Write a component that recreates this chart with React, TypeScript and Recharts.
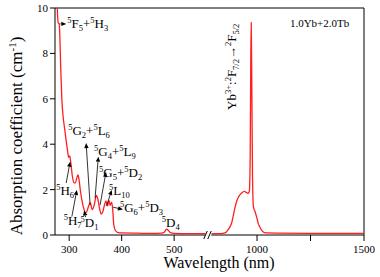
import React from 'react';
import { LineChart, Line, XAxis, YAxis, ReferenceLine, ReferenceDot } from 'recharts';

// ---------- data ----------
const uvWavelength = [273, 276, 279, 281, 282, 284, 286, 289, 291, 294, 297, 299, 301, 303, 306, 309, 312, 315, 317, 319, 322, 325, 328, 331, 333, 336, 340, 344, 348, 352, 355, 358, 361, 364, 367, 370, 373, 376, 378, 381, 383, 385, 388, 392, 400, 430, 460, 476, 481, 484, 486, 489, 493, 500, 530, 560];
const uvAbsorption = [12.5, 10.8, 9.35, 9.3, 8.9, 7.3, 6.0, 5.1, 4.75, 4.2, 3.7, 3.42, 3.48, 3.2, 2.6, 2.3, 2.3, 2.55, 2.65, 2.4, 1.85, 1.45, 1.15, 1.0, 1.0, 1.2, 1.42, 1.12, 1.35, 1.75, 1.55, 1.15, 0.92, 1.02, 1.3, 1.5, 1.28, 1.52, 1.3, 1.45, 1.1, 0.45, 0.2, 0.12, 0.09, 0.08, 0.07, 0.08, 0.12, 0.22, 0.26, 0.2, 0.1, 0.07, 0.06, 0.06];

const nirWavelength = [788, 830, 850, 858, 870, 882, 890, 898, 906, 915, 928, 942, 952, 958, 964, 968, 971, 973, 976, 979, 983, 990, 998, 1006, 1014, 1022, 1032, 1050, 1100, 1250, 1500];
const nirAbsorption = [0.06, 0.06, 0.09, 0.15, 0.3, 0.55, 0.9, 1.25, 1.52, 1.7, 1.85, 1.92, 1.86, 1.84, 1.92, 3.5, 8.0, 9.36, 6.0, 2.5, 1.25, 1.05, 0.8, 0.5, 0.33, 0.2, 0.12, 0.09, 0.08, 0.07, 0.07];

const xTickWavelengths = [300, 400, 500, 1000, 1250, 1500];
const xTickLabels = ['300', '400', '500', '1000', '', '1500'];
const yTicks = [0, 2, 4, 6, 8, 10];

// ---------- broken axis mapping ----------
const AXIS_START = 273;
const U_BREAK = 565;      // end of the UV segment
const NIR_START = 772;    // start of the NIR segment
const NIR_RATIO = 0.4076; // NIR segment compression
const toU = (w: number) => (w <= U_BREAK ? w : U_BREAK + (w - NIR_START) * NIR_RATIO);
const U_MAX = toU(1500);

const uvData = uvWavelength.map((w, i) => ({ u: toU(w), a: uvAbsorption[i] }));
const nirData = nirWavelength.map((w, i) => ({ u: toU(w), a: nirAbsorption[i] }));
const xTicksU = xTickWavelengths.map(toU);

const FONT = '"Liberation Serif", "Times New Roman", Times, serif';
const RED = '#ff1f1f';

type Part = [string, string?];

// annotation texts
const labelTexts: { parts: Part[]; w: number; a: number; rot?: boolean; size?: number }[] = [
  { parts: [['5', 'sup'], ['F'], ['5', 'sub'], ['+'], ['5', 'sup'], ['H'], ['3', 'sub']], w: 296.2, a: 9.12 },
  { parts: [['5', 'sup'], ['G'], ['2', 'sub'], ['+'], ['5', 'sup'], ['L'], ['6', 'sub']], w: 298.1, a: 4.41 },
  { parts: [['5', 'sup'], ['G'], ['4', 'sub'], ['+'], ['5', 'sup'], ['L'], ['9', 'sub']], w: 347.5, a: 3.48 },
  { parts: [['5', 'sup'], ['G'], ['5', 'sub'], ['+'], ['5', 'sup'], ['D'], ['2', 'sub']], w: 357.0, a: 2.56 },
  { parts: [['5', 'sup'], ['L'], ['10', 'sub']], w: 375.9, a: 1.76 },
  { parts: [['5', 'sup'], ['G'], ['6', 'sub'], ['+'], ['5', 'sup'], ['D'], ['3', 'sub']], w: 396.8, a: 1.01 },
  { parts: [['5', 'sup'], ['D'], ['4', 'sub']], w: 476.6, a: 0.35 },
  { parts: [['5', 'sup'], ['H'], ['6', 'sub']], w: 275.3, a: 1.76 },
  { parts: [['5', 'sup'], ['H'], ['7', 'sub']], w: 289.6, a: 0.44 },
  { parts: [['5', 'sup'], ['D'], ['1', 'sub']], w: 321.8, a: 0.35 },
  { parts: [['1.0Yb+2.0Tb']], w: 1153.7, a: 9.15, size: 11 },
  { parts: [['Yb'], ['3+', 'sup'], [':'], ['2', 'sup'], ['F'], ['7/2', 'sub'], ['\u2192'], ['2', 'sup'], ['F'], ['5/2', 'sub']], w: 902.2, a: 5.51, rot: true },
];

// arrows: [fromW, fromA, toW, toA], head at "to"
const arrows: number[][] = [
  [283, 9.3, 294.5, 9.3],
  [294.3, 2.29, 301.9, 3.23],
  [305.1, 0.81, 314.6, 1.98],
  [331.3, 0.79, 328.5, 1.08],
  [339.9, 1.32, 332.3, 4.05],
  [349.4, 1.63, 355.6, 3.45],
  [358.9, 1.32, 370.2, 2.78],
  [371.2, 1.28, 381.1, 1.98],
  [383.5, 1.23, 402.5, 1.12],
];

function RichText({ x, y, parts, size = 13, small = 8.5, rot = false }: any) {
  let level = 0;
  const spans = parts.map(([t, kind]: Part, i: number) => {
    const target = kind === 'sup' ? -size * 0.36 : kind === 'sub' ? size * 0.24 : 0;
    const dy = target - level;
    level = target;
    return (
      <tspan key={i} dy={dy} fontSize={kind ? small : size}>
        {t}
      </tspan>
    );
  });
  return (
    <text
      x={x}
      y={y}
      fill="#000"
      fontSize={size}
      style={{ fontFamily: FONT }}
      transform={rot ? `rotate(-90 ${x} ${y})` : undefined}
    >
      {spans}
    </text>
  );
}

function ArrowShape(props: any) {
  const { x1, y1, x2, y2 } = props;
  const dx = x2 - x1;
  const dy = y2 - y1;
  const len = Math.sqrt(dx * dx + dy * dy) || 1;
  const ux = dx / len;
  const uy = dy / len;
  const hl = 5;
  const hw = 2.2;
  const bx = x2 - ux * hl;
  const by = y2 - uy * hl;
  const p1 = `${x2},${y2}`;
  const p2 = `${bx - uy * hw},${by + ux * hw}`;
  const p3 = `${bx + uy * hw},${by - ux * hw}`;
  return (
    <g>
      <line x1={x1} y1={y1} x2={bx} y2={by} stroke="#000" strokeWidth={0.8} />
      <polygon points={`${p1} ${p2} ${p3}`} fill="#000" />
    </g>
  );
}

function BreakShape(props: any) {
  const { x1, y1, y2 } = props;
  const b = Math.max(y1, y2);
  return (
    <g stroke="#000" strokeWidth={1}>
      <line x1={x1 - 4.5} y1={b + 4} x2={x1 - 1} y2={b - 4} />
      <line x1={x1 - 0.5} y1={b + 4} x2={x1 + 3} y2={b - 4} />
    </g>
  );
}

export default function App() {
  return (
    <div style={{ position: 'absolute', left: 0, top: 0, width: 380, height: 277, background: '#fff', fontFamily: FONT }}>
      <LineChart width={380} height={277} margin={{ top: 8, right: 16, bottom: 12, left: 10 }} style={{ fontFamily: FONT }}>
        <XAxis
          type="number"
          dataKey="u"
          domain={[AXIS_START, U_MAX]}
          allowDataOverflow
          ticks={xTicksU}
          interval={0}
          tickFormatter={(v: number) => xTickLabels[xTicksU.indexOf(v)] ?? ''}
          axisLine={false}
          tickLine={{ stroke: '#000' }}
          tickSize={6}
          tickMargin={4}
          height={30}
          tick={{ fontSize: 11, fill: '#000', fontFamily: FONT }}
        />
        <YAxis
          type="number"
          domain={[0, 10]}
          allowDataOverflow
          ticks={yTicks}
          interval={0}
          width={45}
          axisLine={{ stroke: '#000' }}
          tickLine={{ stroke: '#000' }}
          tickSize={5}
          tickMargin={2}
          tick={{ fontSize: 11, fill: '#000', fontFamily: FONT }}
        />
        <ReferenceLine y={10} stroke="#000" strokeWidth={1} />
        <ReferenceLine x={U_MAX} stroke="#000" strokeWidth={1} />
        <ReferenceLine segment={[{ x: AXIS_START, y: 0 }, { x: U_BREAK - 5.7, y: 0 }]} stroke="#000" strokeWidth={1} />
        <ReferenceLine segment={[{ x: U_BREAK + 5.7, y: 0 }, { x: U_MAX, y: 0 }]} stroke="#000" strokeWidth={1} />
        <ReferenceLine x={U_BREAK} shape={BreakShape} />
        <Line data={uvData} dataKey="a" type="monotone" stroke={RED} strokeWidth={1.3} dot={false} isAnimationActive={false} />
        <Line data={nirData} dataKey="a" type="monotone" stroke={RED} strokeWidth={1.3} dot={false} isAnimationActive={false} />
        {arrows.map((a, i) => (
          <ReferenceLine
            key={`ar${i}`}
            segment={[{ x: toU(a[0]), y: a[1] }, { x: toU(a[2]), y: a[3] }]}
            shape={ArrowShape}
          />
        ))}
        {labelTexts.map((l, i) => (
          <ReferenceDot
            key={`lb${i}`}
            x={toU(l.w)}
            y={l.a}
            r={0}
            shape={(p: any) => <RichText x={p.cx} y={p.cy} parts={l.parts} rot={l.rot} size={l.size ?? 13} small={8.5} />}
          />
        ))}
        <text x={219} y={268} textAnchor="middle" fontSize={16} fill="#000" style={{ fontFamily: FONT }}>
          Wavelength (nm)
        </text>
        <text x={22} y={136} textAnchor="middle" fontSize={17} fill="#000" style={{ fontFamily: FONT }} transform="rotate(-90 22 136)">
          Absorption coefficient (cm<tspan dy={-6} fontSize={11}>-1</tspan>
          <tspan dy={6}>)</tspan>
        </text>
      </LineChart>
    </div>
  );
}
